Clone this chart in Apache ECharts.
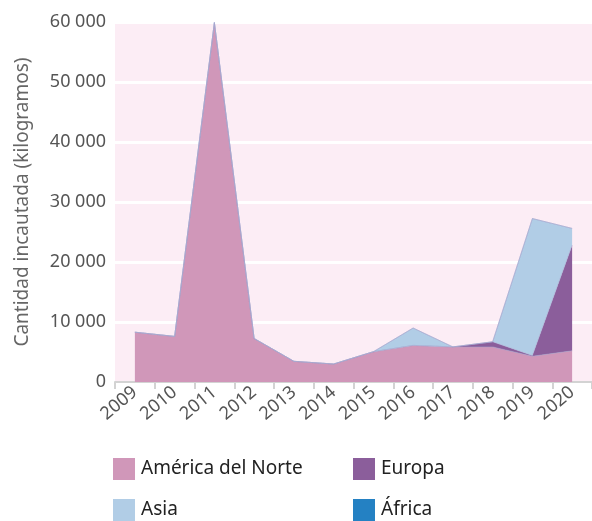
<!DOCTYPE html>
<html>
<head>
<meta charset="utf-8">
<script src="https://cdn.jsdelivr.net/npm/echarts@6/dist/echarts.min.js"></script>
<style>
  html, body { margin: 0; padding: 0; background: #fff; }
  #chart { width: 592px; height: 521px; }
</style>
</head>
<body>
<div id="chart"></div>
<script>
// years on the x axis
const years = ['2009', '2010', '2011', '2012', '2013', '2014', '2015', '2016', '2017', '2018', '2019', '2020']

// seized quantity per region, kg
const northAmerica = [8300, 7600, 59900, 7250, 3450, 3000, 5050, 6100, 5850, 5850, 4300, 5200]
const europe       = [0, 0, 0, 0, 0, 0, 0, 0, 0, 850, 100, 17600]
const asia         = [0, 0, 0, 0, 0, 0, 0, 2900, 0, 0, 22850, 2800]
const africa       = [0, 0, 0, 0, 0, 0, 0, 0, 0, 0, 0, 0]

const yTicks = [0, 10000, 20000, 30000, 40000, 50000, 60000]

const colors = {
  'América del Norte': '#d097b9',
  'Europa': '#8b5e9b',
  'Asia': '#b1cde6',
  'África': '#2481c3'
}

const font = '"Noto Sans", "Open Sans", sans-serif'

const fmt = v => String(v).replace(/\B(?=(\d{3})+(?!\d))/g, ' ')

const makeSeries = (name, data) => ({
  name: name,
  type: 'line',
  stack: 'total',
  data: data,
  showSymbol: false,
  symbol: 'none',
  lineStyle: { width: 0.5, color: '#a4a6cf' },
  areaStyle: { color: colors[name], opacity: 1 },
  itemStyle: { color: colors[name] }
})

const legendCommon = {
  orient: 'vertical',
  top: 458,
  height: 63,
  padding: 0,
  itemWidth: 22,
  itemHeight: 22,
  itemGap: 19,
  icon: 'rect',
  selectedMode: false,
  textStyle: { fontFamily: font, fontSize: 19, color: '#222', padding: [0, 0, 0, 1] }
}

const option = {
  animation: false,
  color: Object.values(colors),
  grid: {
    left: 115,
    right: 0,
    top: 22,
    bottom: 139,
    show: true,
    backgroundColor: '#fcedf5',
    borderWidth: 0
  },
  legend: [
    Object.assign({}, legendCommon, { left: 113, data: ['América del Norte', 'Asia'] }),
    Object.assign({}, legendCommon, { left: 353, data: ['Europa', 'África'] })
  ],
  xAxis: {
    type: 'category',
    data: years,
    boundaryGap: true,
    axisLine: { lineStyle: { color: '#d3d3d3', width: 2 } },
    axisTick: { show: true, length: 7, lineStyle: { color: '#d3d3d3', width: 2 } },
    axisLabel: {
      rotate: 40,
      margin: 8,
      fontFamily: font,
      fontSize: 18,
      color: '#555'
    }
  },
  yAxis: {
    type: 'value',
    min: yTicks[0],
    max: yTicks[yTicks.length - 1],
    interval: 10000,
    name: 'Cantidad incautada (kilogramos)',
    nameLocation: 'middle',
    nameGap: 83,
    nameTextStyle: { fontFamily: font, fontSize: 19, color: '#666' },
    axisLine: { show: false },
    axisTick: { show: false },
    axisLabel: {
      margin: 9,
      fontFamily: font,
      fontSize: 18,
      color: '#555',
      formatter: fmt
    },
    splitLine: { lineStyle: { color: '#ffffff', width: 3 } }
  },
  series: [
    makeSeries('América del Norte', northAmerica),
    makeSeries('Europa', europe),
    makeSeries('Asia', asia),
    makeSeries('África', africa)
  ]
}

echarts.init(document.getElementById('chart')).setOption(option)
</script>
</body>
</html>
